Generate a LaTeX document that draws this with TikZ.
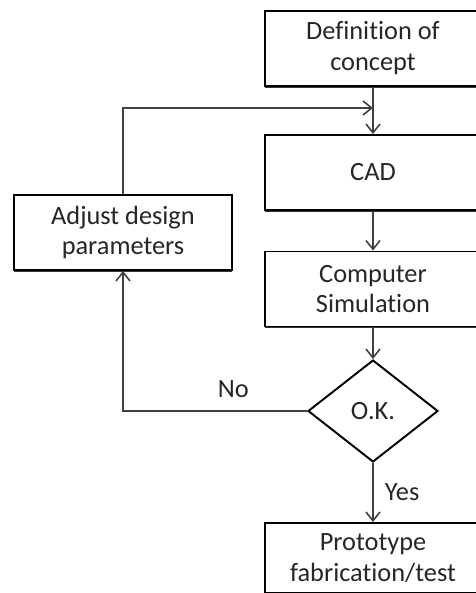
\documentclass[tikz,border=0pt]{standalone}
\usepackage{fontspec}
\setmainfont{Carlito}[Ligatures=NoCommon]
\usepackage{tikz}
\usetikzlibrary{shapes.geometric,arrows.meta,positioning,calc,shadows}
\tikzset{
    stage/.style={
        rectangle, draw=black, line width=1.1pt, fill=white,
        minimum width=4.32cm, minimum height=1.5cm,
        align=center, text=black!85, font=\fontsize{15}{17.6}\selectfont,
        drop shadow={shadow xshift=0pt, shadow yshift=-0.035cm, fill=black!80, opacity=1}
    },
    check/.style={
        diamond, draw=black, line width=1.1pt, fill=white, inner sep=0pt,
        minimum width=2.6cm, minimum height=2.04cm,
        align=center, text=black!85, font=\fontsize{15}{17.6}\selectfont
    },
    arrow/.style={-{Straight Barb[length=5pt,width=8pt]},line width=0.9pt,draw=black!75},
    tag/.style={text=black!85, font=\fontsize{15}{17.6}\selectfont}
}

\begin{document}
\begin{tikzpicture}[x=0.02cm,y=-0.02cm]
\useasboundingbox (0,0) rectangle (476,593);

% ---- Main column (x=373) ----
\node[stage] (concept) at (373, 48.5) {Definition of\\concept};
\node[stage] (cad)     at (373, 172.5) {CAD};
\node[stage] (sim)     at (373, 289) {Computer\\Simulation};
\node[check] (ok)      at (373, 411) {O.K.};
\node[stage, minimum height=1.4cm] (proto) at (373, 558) {Prototype\\fabrication/test};

% ---- Feedback box ----
\node[stage, minimum width=4.36cm] (adjust) at (123, 232.5) {Adjust design\\parameters};

% loop joins the main column here
\coordinate (join) at (373, 108);

% Main flow
\draw[arrow] (concept) -- (cad);
\draw[arrow] (cad) -- (sim);
\draw[arrow] (sim) -- (ok);
\draw[arrow] (ok) -- node[tag, right=3pt] {Yes} (proto);

% No -> adjust -> back into the column
\draw[arrow] (ok.west) -| node[tag, pos=0.2, above=4pt] {No} (adjust.south);
\draw[arrow] (adjust.north) |- (join);

\end{tikzpicture}
\end{document}
